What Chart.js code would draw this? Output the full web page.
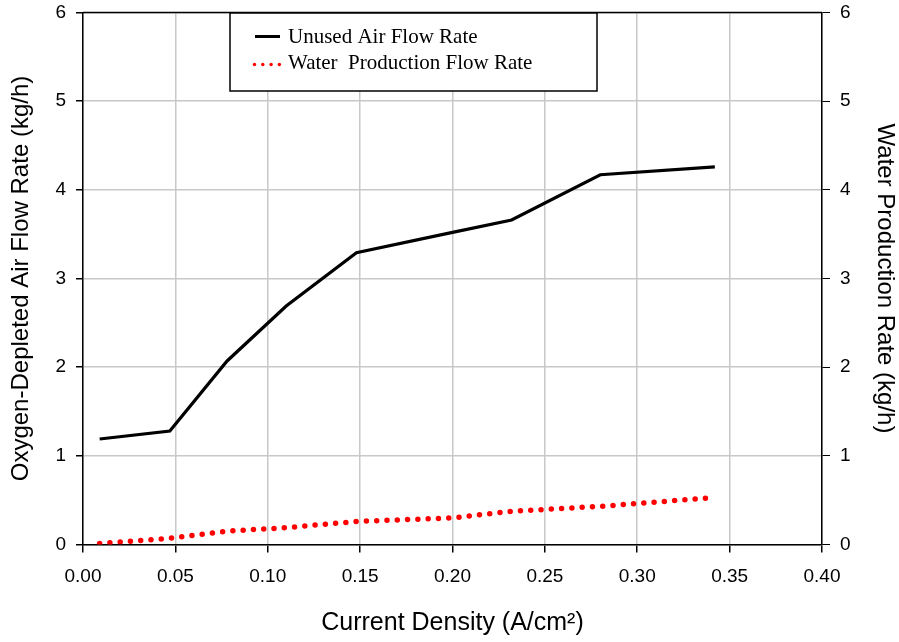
<!DOCTYPE html>
<html>
<head>
<meta charset="utf-8">
<script src="https://cdn.jsdelivr.net/npm/chart.js@4.4.1/dist/chart.umd.min.js"></script>
<style>
  html, body { margin: 0; padding: 0; background: #fff; }
  #wrap { width: 899px; height: 642px; }
</style>
</head>
<body>
<div id="wrap"><canvas id="c" width="899" height="642"></canvas></div>
<script>
/* -------- DATA -------- */
const currentDensity = [0.009, 0.047, 0.078, 0.11, 0.148, 0.20, 0.232, 0.28, 0.342];
const unusedAir      = [1.19, 1.28, 2.07, 2.69, 3.29, 3.52, 3.66, 4.17, 4.26];
const waterProd      = [0.01, 0.07, 0.15, 0.19, 0.26, 0.30, 0.375, 0.43, 0.53];
const seriesNames    = ["Unused Air Flow Rate", "Water  Production Flow Rate"];

const SANS = "'Liberation Sans', Arial, sans-serif";
const SERIF = "'Liberation Serif', 'Times New Roman', serif";

function pts(xs, ys){
    return xs.map((x, i) => ({ x: x, y: ys[i] }));
}

// keep the plot area where the reference has it
function fixWidth(w){
    return function(s){
        s.width = w;
        s.paddingTop = 0;
        s.paddingBottom = 0;
    };
}

/* -------- PLOT FRAME + LEGEND -------- */
const framePlugin = {
    id: "frame",
    afterDraw(chart){
        const ctx = chart.ctx;
        const a = chart.chartArea;
        ctx.save();
        // top border of plot
        ctx.strokeStyle = "#000";
        ctx.lineWidth = 1.5;
        ctx.beginPath();
        ctx.moveTo(a.left, a.top);
        ctx.lineTo(a.right, a.top);
        ctx.stroke();

        // legend box
        const bx = 230, by = 13, bw = 367, bh = 78;
        ctx.fillStyle = "#fff";
        ctx.fillRect(bx, by, bw, bh);
        ctx.lineWidth = 1.5;
        ctx.strokeRect(bx, by, bw, bh);

        const ds = chart.data.datasets;
        ctx.font = "21px " + SERIF;
        ctx.textBaseline = "middle";
        ctx.fillStyle = "#000";

        // solid sample
        ctx.strokeStyle = ds[0].borderColor;
        ctx.lineWidth = 3;
        ctx.beginPath();
        ctx.moveTo(255, 36.5);
        ctx.lineTo(280, 36.5);
        ctx.stroke();
        ctx.fillText(ds[0].label, 288, 37);

        // dotted sample
        ctx.fillStyle = ds[1].borderColor;
        for (let i = 0; i < 4; i++){
            ctx.beginPath();
            ctx.arc(254.5 + i * 8.3, 64.5, 1.7, 0, Math.PI * 2);
            ctx.fill();
        }
        ctx.fillStyle = "#000";
        ctx.fillText(ds[1].label, 288, 63);
        ctx.restore();
    }
};

/* -------- CHART -------- */
new Chart(document.getElementById("c"), {
    type: "line",
    data: {
        datasets: [{
            label: seriesNames[0],
            data: pts(currentDensity, unusedAir),
            borderColor: "#000",
            borderWidth: 3.2,
            pointRadius: 0,
            tension: 0,
            yAxisID: "y"
        }, {
            label: seriesNames[1],
            data: pts(currentDensity, waterProd),
            borderColor: "#ff0000",
            borderWidth: 5.5,
            borderDash: [0, 10.3],
            borderCapStyle: "round",
            pointRadius: 0,
            tension: 0,
            yAxisID: "y2"
        }]
    },
    options: {
        responsive: false,
        animation: false,
        layout: { padding: { top: 12.5, left: 0, right: 0, bottom: 0 } },
        plugins: {
            legend: { display: false },
            tooltip: { enabled: false }
        },
        scales: {
            x: {
                type: "linear",
                min: 0, max: 0.4,
                afterFit(s){ s.height = 97.5; },
                ticks: {
                    stepSize: 0.05,
                    color: "#000",
                    font: { family: SANS, size: 19 },
                    padding: 13,
                    maxRotation: 0,
                    callback: v => v.toFixed(2)
                },
                grid: { color: "#c8c8c8", lineWidth: 1.5, tickColor: "#000", tickLength: 8 },
                border: { color: "#000", width: 1.5 },
                title: {
                    display: true,
                    text: "Current Density (A/cm\u00B2)",
                    color: "#000",
                    font: { family: SANS, size: 25 },
                    padding: { top: 0, bottom: 4 }
                }
            },
            y: {
                position: "left",
                min: 0, max: 6,
                afterFit: fixWidth(83),
                ticks: {
                    stepSize: 1,
                    color: "#000",
                    font: { family: SANS, size: 19 },
                    padding: 10
                },
                grid: { color: "#c8c8c8", lineWidth: 1.5, tickColor: "#000", tickLength: 7 },
                border: { color: "#000", width: 1.5 },
                title: {
                    display: true,
                    text: "Oxygen-Depleted Air Flow Rate (kg/h)",
                    color: "#000",
                    font: { family: SANS, size: 24 },
                    padding: { top: 7, bottom: 0 }
                }
            },
            y2: {
                position: "right",
                min: 0, max: 6,
                afterFit: fixWidth(77),
                ticks: {
                    stepSize: 1,
                    color: "#000",
                    font: { family: SANS, size: 19 },
                    padding: 10
                },
                grid: { drawOnChartArea: false, tickColor: "#000", tickLength: 8 },
                border: { color: "#000", width: 1.5 },
                title: {
                    display: true,
                    text: "Water Production Rate (kg/h)",
                    color: "#000",
                    font: { family: SANS, size: 24 },
                    padding: { top: 0, bottom: 0 }
                }
            }
        }
    },
    plugins: [framePlugin]
});
</script>
</body>
</html>
